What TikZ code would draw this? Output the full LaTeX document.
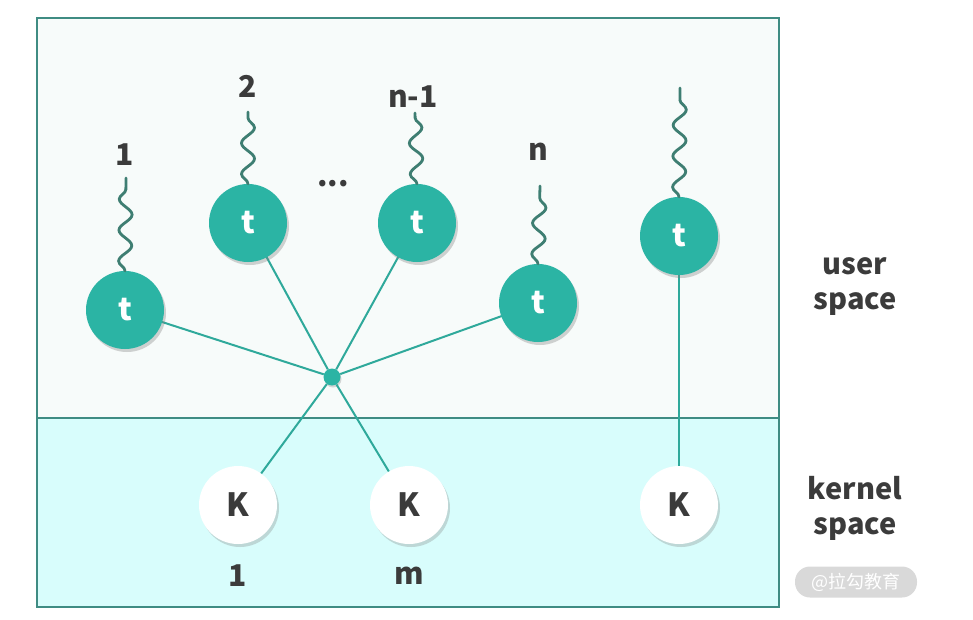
\documentclass[tikz,border=0pt]{standalone}
\usepackage{fontspec}
\setmainfont{Noto Sans CJK SC}
\newfontfamily\cjk{Noto Sans CJK SC}
\usetikzlibrary{shadows,decorations.pathmorphing}
\definecolor{userbg}{HTML}{F7FBFA}
\definecolor{kernbg}{HTML}{D8FDFC}
\definecolor{frame}{HTML}{3F8C83}
\definecolor{teal}{HTML}{2BB4A4}
\definecolor{link}{HTML}{2FA99B}
\definecolor{wave}{HTML}{3E7E72}
\definecolor{txt}{HTML}{3B3B3B}
\begin{document}
\begin{tikzpicture}[x=1pt,y=-1pt,
  tnode/.style={circle,fill=teal,minimum size=78pt,inner sep=0pt,text=white,font=\bfseries\fontsize{31}{31}\selectfont,
     drop shadow={shadow xshift=2pt,shadow yshift=-3pt,opacity=0.35}},
  knode/.style={circle,fill=white,minimum size=78pt,inner sep=0pt,text=txt,font=\bfseries\fontsize{32}{32}\selectfont,
     drop shadow={shadow xshift=2pt,shadow yshift=-3pt,opacity=0.3}},
  lbl/.style={text=txt,font=\bfseries\fontsize{30}{30}\selectfont},
  side/.style={text=txt,font=\bfseries\fontsize{29}{35}\selectfont,align=center},
  conn/.style={draw=link,line width=2pt},
  wavy/.style={draw=wave,line width=2.8pt,line cap=round,decorate,decoration={snake,segment length=31pt,amplitude=6.5pt}}]
\useasboundingbox (0,0) rectangle (973,619);
% regions
\path[fill=userbg,draw=frame,line width=1.2pt] (37,18) rectangle (779,418);
\path[fill=kernbg,draw=frame,line width=1.2pt] (37,418) rectangle (779,607);
% hub
\node[circle,fill=teal,minimum size=17pt,inner sep=0pt,drop shadow={shadow xshift=1pt,shadow yshift=-2pt,opacity=0.3}] (hub) at (332,377) {};
% K nodes
\node[knode] (k1) at (238,505) {K};
\node[knode] (k2) at (409,505) {K};
\node[knode] (k3) at (679,505) {K};
% connectors (behind t nodes)
\coordinate (c1) at (125,310);
\coordinate (c2) at (248,223);
\coordinate (c3) at (417,223);
\coordinate (c4) at (538,303);
\coordinate (c5) at (679,236);
\draw[conn] (c1) -- (hub);
\draw[conn] (c2) -- (hub);
\draw[conn] (c3) -- (hub);
\draw[conn] (c4) -- (hub);
\draw[conn] (hub) -- (k1);
\draw[conn] (hub) -- (k2);
\draw[conn] (c5) -- (k3);
% t nodes
\node[tnode] (t1) at (c1) {t};
\node[tnode] (t2) at (c2) {t};
\node[tnode] (t3) at (c3) {t};
\node[tnode] (t4) at (c4) {t};
\node[tnode] (t5) at (c5) {t};
% wavy threads
\coordinate (w1) at (126,178);
\coordinate (w2) at (248,112);
\coordinate (w3) at (415,113);
\coordinate (w4) at (540,186);
\coordinate (w5) at (680,88);
\draw[wavy] (t1.north) -- (w1);
\draw[wavy] (t2.north) -- (w2);
\draw[wavy] (t3.north) -- (w3);
\draw[wavy] (t4.north) -- (w4);
\draw[wavy] (t5.north) -- (w5);
% labels
\node[lbl] (l1) at (125,155) {1};
\node[lbl] (l2) at (248,86) {2};
\node[lbl] (l3) at (413,97) {n-1};
\node[lbl] (l4) at (538,152) {n};
\node[lbl] (dots) at (333,184) {...};
\node[lbl] (m1) at (238,576) {1};
\node[lbl] (m2) at (409,576) {m};
\node[side] (us) at (855,287) {user\\space};
\node[side] (ks) at (855,508) {kernel\\space};
% watermark
\node[fill=black!15,rounded corners=15pt,minimum width=122pt,minimum height=31pt,text=white,font=\cjk\fontsize{18}{18}\selectfont] (wm) at (856,582) {@拉勾教育};
\end{tikzpicture}
\end{document}
